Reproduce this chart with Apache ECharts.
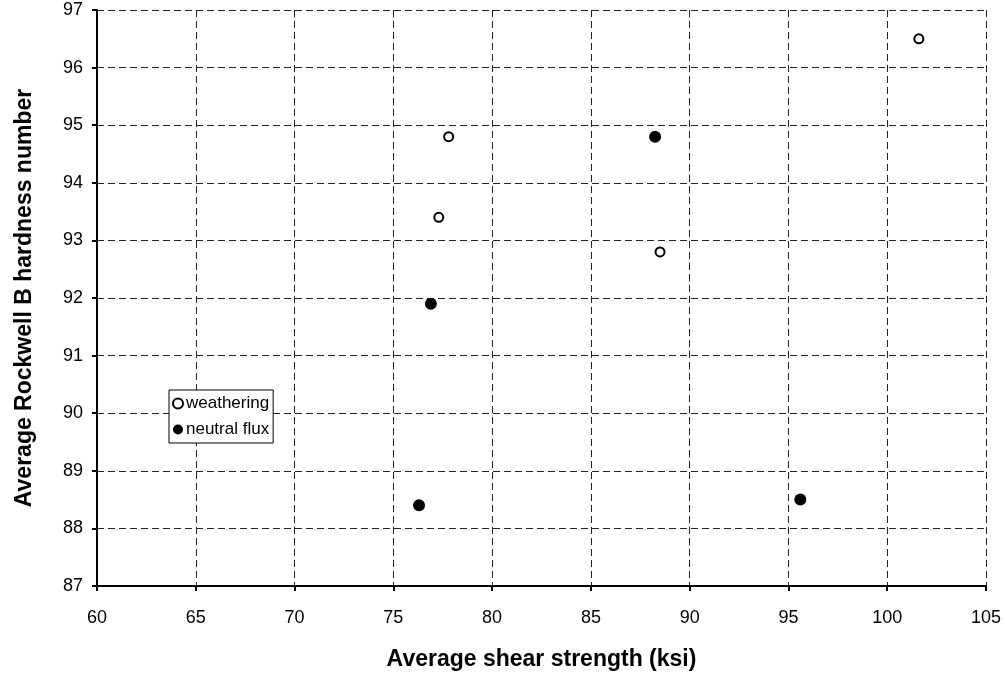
<!DOCTYPE html>
<html>
<head>
<meta charset="utf-8">
<script src="https://cdn.jsdelivr.net/npm/echarts@6/dist/echarts.min.js"></script>
<style>html,body{margin:0;padding:0;background:#fff}#c{width:1005px;height:676px}</style>
</head>
<body>
<div id="c"></div>
<script>
const xTitle = 'Average shear strength (ksi)';
const yTitle = 'Average Rockwell B hardness number';
const weatheringX = [77.8, 77.3, 88.5, 101.6];
const weatheringY = [94.8, 93.4, 92.8, 96.5];
const neutralX = [88.25, 76.9, 76.3, 95.6];
const neutralY = [94.8, 91.9, 88.4, 88.5];

const pairs = (xs, ys) => xs.map((x, i) => [x, ys[i]]);
const font = 'Arial, "Liberation Sans", sans-serif';
const grid = {lineStyle: {color: '#222', width: 1, type: [7, 4]}};

const chart = echarts.init(document.getElementById('c'), null, {renderer: 'canvas'});
chart.setOption({
  animation: false,
  backgroundColor: '#fff',
  grid: {left: 97, right: 19, top: 10, bottom: 90, containLabel: false},
  xAxis: {
    type: 'value', min: 60, max: 105, interval: 5,
    name: xTitle, nameLocation: 'middle', nameGap: 62,
    nameTextStyle: {fontFamily: font, fontWeight: 'bold', fontSize: 23, color: '#000'},
    axisLine: {onZero: false, lineStyle: {color: '#000', width: 2}},
    axisTick: {show: true, length: 5, lineStyle: {color: '#000', width: 2}},
    axisLabel: {fontFamily: font, fontSize: 18, color: '#000', margin: 23},
    splitLine: {show: true, ...grid}
  },
  yAxis: {
    type: 'value', min: 87, max: 97, interval: 1,
    name: yTitle, nameLocation: 'middle', nameGap: 61, nameRotate: 90,
    nameTextStyle: {fontFamily: font, fontWeight: 'bold', fontSize: 23, color: '#000'},
    axisLine: {show: true, onZero: false, lineStyle: {color: '#000', width: 2}},
    axisTick: {show: true, length: 5, lineStyle: {color: '#000', width: 2}},
    axisLabel: {fontFamily: font, fontSize: 18, color: '#000', margin: 14},
    splitLine: {show: true, ...grid}
  },
  legend: {
    orient: 'vertical', left: 169, top: 390,
    backgroundColor: '#fff', borderColor: '#000', borderWidth: 1,
    padding: [5, 4, 5, 3], itemGap: 9, itemWidth: 10, itemHeight: 10,
    textStyle: {fontFamily: font, fontSize: 17, color: '#000', padding: [0, 0, 0, -2]},
    data: ['weathering', 'neutral flux']
  },
  series: [
    {
      name: 'weathering', type: 'scatter', symbol: 'circle', symbolSize: 9,
      itemStyle: {color: '#fff', borderColor: '#000', borderWidth: 2, opacity: 1},
      data: pairs(weatheringX, weatheringY), z: 3
    },
    {
      name: 'neutral flux', type: 'scatter', symbol: 'circle', symbolSize: 12,
      itemStyle: {color: '#000', borderWidth: 0, opacity: 1},
      data: pairs(neutralX, neutralY), z: 3
    }
  ]
});
</script>
</body>
</html>
